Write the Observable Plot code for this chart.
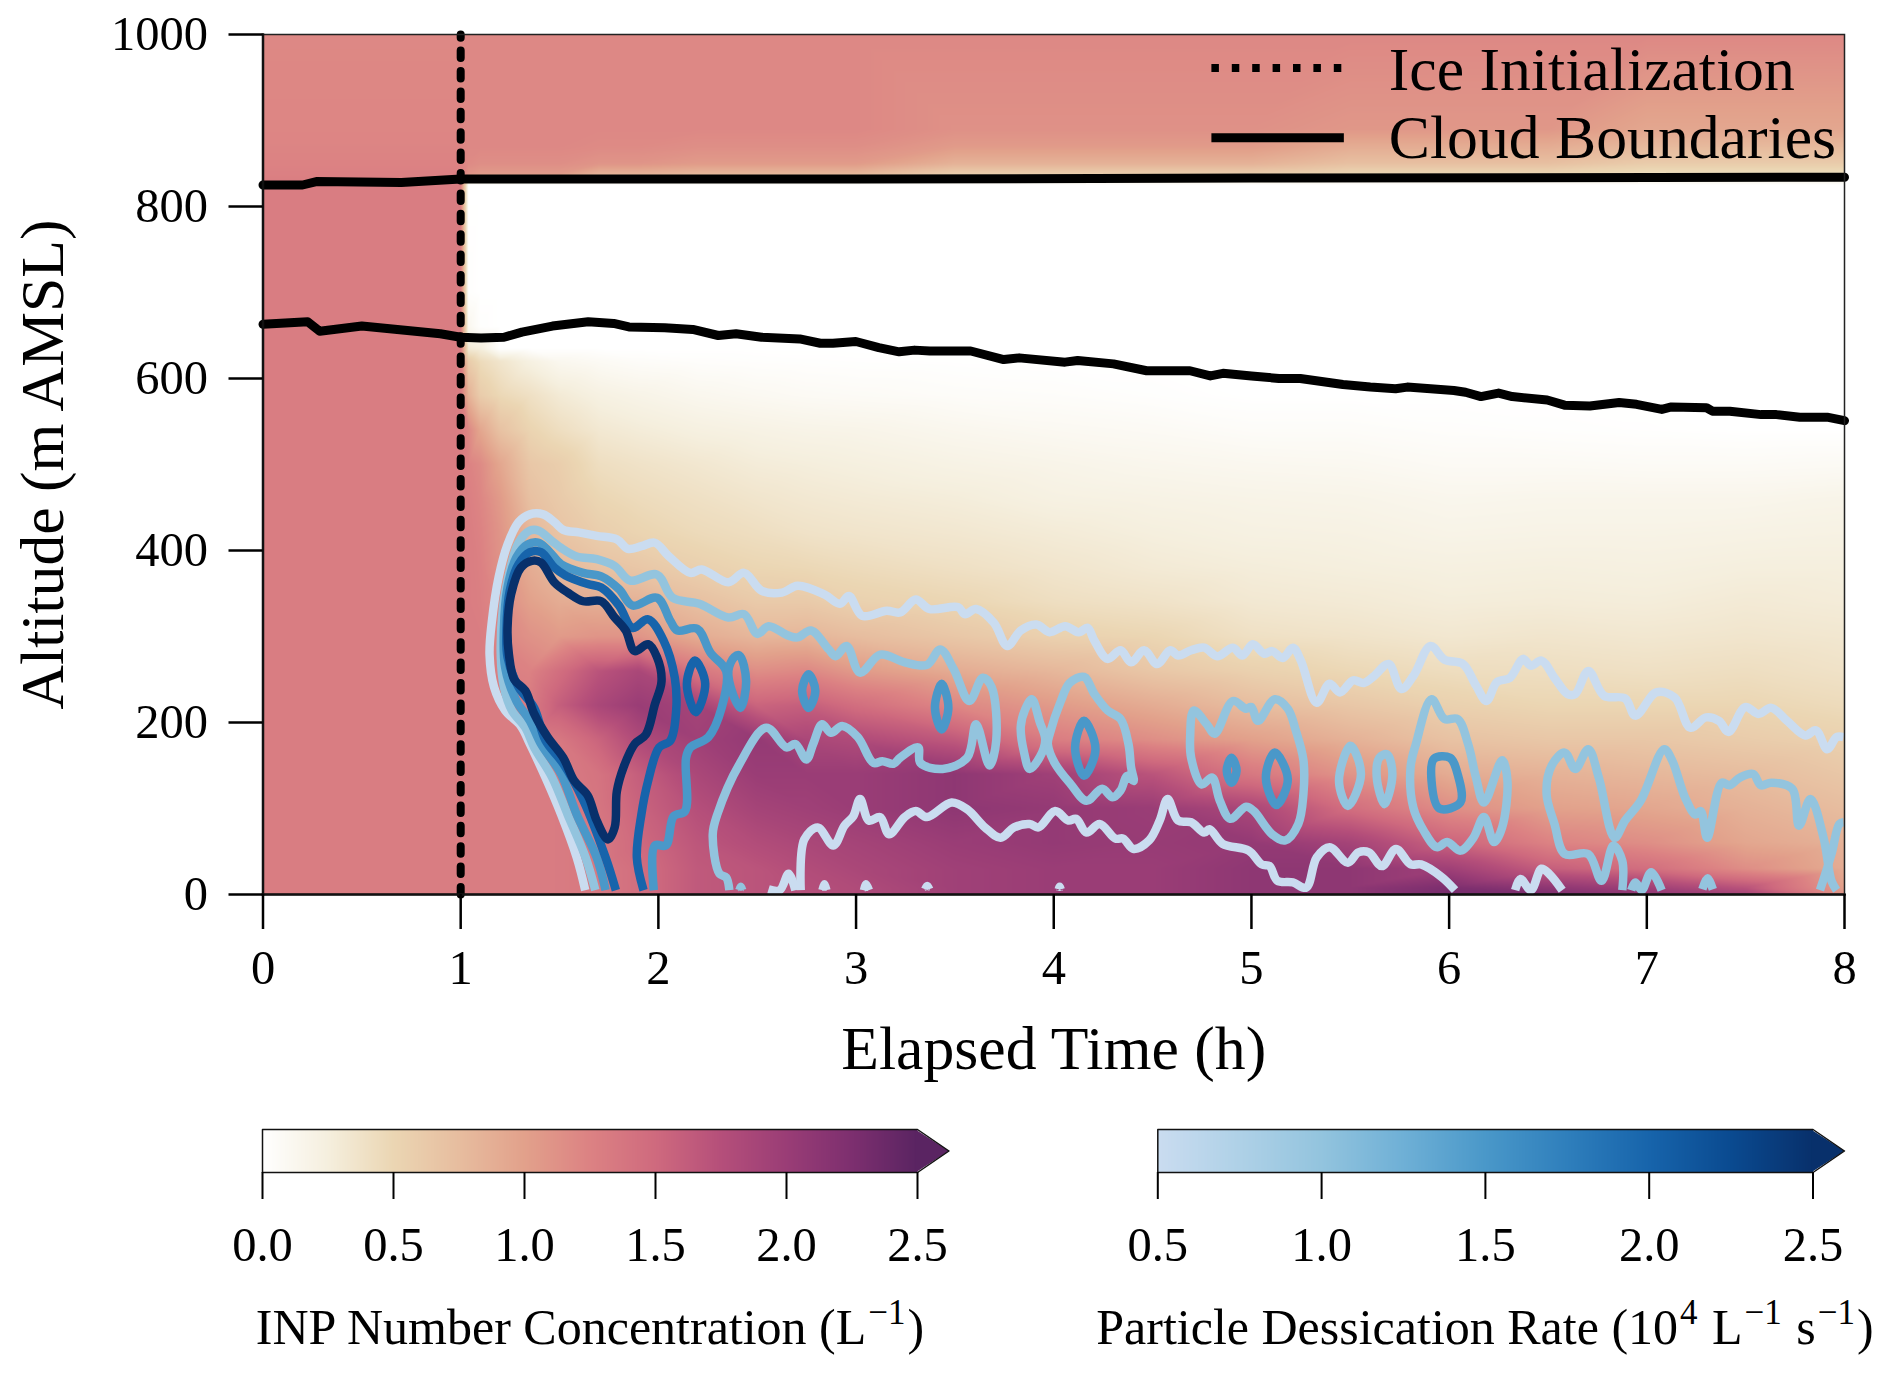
<!DOCTYPE html>
<html>
<head>
<meta charset="utf-8">
<script src="https://cdn.jsdelivr.net/npm/d3@7"></script>
<script src="https://cdn.jsdelivr.net/npm/@observablehq/plot@0.6"></script>
<style>
html,body{margin:0;padding:0;background:#fff;overflow:hidden}
#page{position:relative;width:1892px;height:1374px;font-family:"Liberation Serif",serif;color:#000}
#page svg{display:block;position:absolute;max-width:none}
.cbtitle{position:absolute;top:1297px;width:946px;text-align:center;font-size:50px;line-height:60px;white-space:nowrap}
.cbtitle sup{font-size:35px;line-height:0;vertical-align:baseline;position:relative;top:-20px;margin:0 2px}
</style>
</head>
<body>
<div id="page"></div>
<script>
// ---------- axes ----------
const xTicks = [0,1,2,3,4,5,6,7,8];
const yTicks = [0,200,400,600,800,1000];
const inpTicks = [0,0.5,1,1.5,2,2.5];
const rateTicks = [0.5,1,1.5,2,2.5];

// ---------- colour ramps ----------
const inpStops = [0,0.25,0.5,0.75,1,1.25,1.5,1.75,2,2.25,2.5];
const inpColours = ["#ffffff","#f5efde","#ebd6b3","#e7bd9f","#e2a18b","#dc8283","#cf6a7e","#b54f7a","#9a3d76","#7d2f6f","#5a2462"];
const rateStops = [0.5,0.75,1,1.25,1.5,1.75,2,2.25,2.5];
const rateColours = ["#cadcf0","#afd1e7","#93c4de","#6fb0d6","#4a98c9","#2f7fbc","#1764ab","#0a4a90","#08306b"];

// ---------- INP concentration field, one profile per time ----------
const heatTimes = [0,1,1.04,1.1,1.2,1.35,1.5,1.7,1.9,2.2,2.5,2.75,3,3.5,4,4.5,5,5.5,6,6.5,7,7.5,8];
const heatAltitudes = [0,8,30,60,100,140,180,220,260,300,340,380,420,460,500,540,580,620,635,660,700,825,838,850,870,890,1000];
const cloudZero = [0,0,0,0];
const topEarly = [1.05,1.15,1.2,1.2,1.2];
const topSecond = [.85,1.1,1.18,1.2,1.2];
const topThird = [.8,1.05,1.15,1.2,1.2];
const topMiddle = [.58,.85,1.05,1.13,1.2];
const topLate = [.5,.72,.9,1.08,1.2];
const topEnd = [.42,.6,.78,.95,1.2];
const heatProfiles = [
 [1.3,1.3,1.3,1.3,1.3,1.3,1.3,1.3,1.3,1.3,1.3,1.3,1.3,1.3,1.3,1.3,1.3,1.3,1.3,1.3,1.3,1.3,1.27,1.25,1.23,1.22,1.2],
 [1.3,1.3,1.3,1.3,1.3,1.3,1.3,1.3,1.3,1.3,1.3,1.3,1.3,1.3,1.3,1.3,1.3,1.3,1.3,1.3,1.3,1.3,1.27,1.25,1.23,1.22,1.2],
 [1.3,1.3,1.3,1.3,1.3,1.3,1.3,1.3,1.3,1.3,1.3,1.3,1.3,1.28,1.25,1.2,.85,.6,.3,.12,.02,0,1.1,1.18,1.2,1.2,1.2],
 [1.3,1.3,1.3,1.3,1.3,1.3,1.3,1.3,1.3,1.3,1.28,1.27,1.25,1.22,1.18,.95,.6,.45,.25,.02,0,0,...topEarly],
 [1.3,1.3,1.3,1.3,1.3,1.3,1.3,1.3,1.28,1.22,1.18,1.12,1.1,1.05,.95,.7,.48,.35,...cloudZero,...topEarly],
 [1.3,1.3,1.3,1.3,1.3,1.3,1.3,1.32,1.25,1.12,1,.9,.8,.72,.65,.52,.4,.22,...cloudZero,...topEarly],
 [1.32,1.32,1.32,1.32,1.32,1.32,1.35,1.6,1.45,1.05,.9,.78,.68,.62,.58,.42,.3,.12,...cloudZero,...topEarly],
 [1.35,1.35,1.35,1.35,1.38,1.4,1.55,1.85,1.7,1.1,.88,.7,.58,.5,.42,.32,.22,.08,...cloudZero,...topSecond],
 [1.45,1.45,1.45,1.5,1.55,1.6,1.8,2,1.85,1.1,.85,.65,.52,.45,.38,.28,.18,.05,...cloudZero,...topSecond],
 [1.65,1.65,1.65,1.68,1.75,1.85,1.95,1.9,1.35,.9,.72,.56,.46,.4,.33,.23,.13,.03,...cloudZero,...topThird],
 [1.7,1.7,1.7,1.78,1.9,2,2.05,1.55,1.15,.8,.62,.5,.42,.35,.28,.2,.1,.02,...cloudZero,...topThird],
 [1.75,1.75,1.78,1.85,1.95,2,1.85,1.6,1.2,.82,.62,.48,.38,.32,.26,.18,.08,.015,...cloudZero,...topThird],
 [1.8,1.8,1.85,1.9,2,2,1.8,1.45,1.05,.75,.55,.45,.36,.3,.24,.17,.07,.01,...cloudZero,...topThird],
 [1.95,1.95,1.95,2,2.1,2.1,1.65,1.2,.9,.65,.5,.4,.33,.27,.2,.13,.05,.005,...cloudZero,...topMiddle],
 [2,2,2,2.05,2.05,1.95,1.3,1.05,.8,.55,.42,.35,.29,.22,.17,.1,.04,0,...cloudZero,...topMiddle],
 [2,2,2,2.02,2,1.7,1.15,.9,.65,.5,.38,.3,.25,.2,.14,.08,.02,0,...cloudZero,...topMiddle],
 [2.1,2.1,2.1,2.05,1.85,1.35,1,.75,.55,.4,.32,.27,.22,.18,.12,.05,0,0,...cloudZero,...topMiddle],
 [2.1,2.1,2.1,1.9,1.45,1.1,.85,.65,.48,.37,.3,.25,.21,.17,.11,.05,0,0,...cloudZero,...topLate],
 [2.3,2.25,1.95,1.55,1.15,.9,.7,.55,.43,.33,.27,.23,.18,.14,.08,.03,0,0,...cloudZero,...topLate],
 [2.25,2.1,1.6,1.25,1,.85,.65,.5,.42,.35,.28,.24,.19,.15,.08,.02,0,0,...cloudZero,...topLate],
 [2.1,1.95,1.45,1.15,.95,.8,.65,.5,.4,.33,.27,.23,.19,.15,.07,.01,0,0,...cloudZero,...topEnd],
 [1.9,1.7,1.15,.95,.85,.75,.6,.5,.42,.35,.3,.25,.2,.15,.07,0,0,0,...cloudZero,...topEnd],
 [1.1,1,.9,.85,.75,.65,.55,.45,.38,.33,.28,.25,.21,.17,.08,0,0,0,...cloudZero,...topEnd]
];

// ---------- cloud boundaries ----------
const cloudTop = [[0,825],[.2,825],[.27,829],[.7,828],[1,832],[3,832],[5,833],[8,834]];
const cloudBase = [[0,663],[.226,666],[.287,655],[.5,661],[.897,652],[1,648],[1.103,647],[1.219,648],[1.31,654],[1.464,661],[1.645,666],[1.774,664],[1.851,660],[2.032,659],[2.174,657],[2.303,650],[2.393,652],[2.522,648],[2.715,646],[2.819,641],[2.883,641],[2.999,643],[3.115,636],[3.218,631],[3.296,633],[3.373,632],[3.58,632],[3.747,622],[3.825,624],[4.057,619],[4.121,621],[4.302,617],[4.47,609],[4.689,609],[4.792,603],[4.856,606],[5,603],[5.139,600],[5.247,600],[5.463,593],[5.601,590],[5.729,588],[5.788,590],[6.024,586],[6.083,584],[6.161,579],[6.25,583],[6.319,579],[6.496,575],[6.584,569],[6.712,568],[6.86,572],[6.948,570],[7.076,564],[7.125,567],[7.302,566],[7.332,562],[7.42,562],[7.578,558],[7.656,558],[7.774,555],[7.912,555],[8,551]];
const iceStart = [[1,0],[1,1000]];

// ---------- desiccation-rate contours: level 0.5 ----------
const c05Upper = [[1.63,5],[1.587,43],[1.508,93],[1.429,136],[1.35,175],[1.304,196],[1.225,214],[1.169,241],[1.146,279],[1.158,318],[1.192,369],[1.237,407],[1.293,433],[1.35,442],[1.417,442],[1.474,433],[1.519,424],[1.598,421],[1.688,417],[1.79,413],[1.846,402],[1.914,405],[1.982,409],[2.05,394],[2.162,374],[2.219,378],[2.354,363],[2.433,374],[2.523,353],[2.625,351],[2.704,359],[2.839,349],[2.918,338],[2.964,347],[3.031,324],[3.155,330],[3.223,328],[3.302,343],[3.37,332],[3.517,334],[3.55,326],[3.607,332],[3.697,316],[3.765,289],[3.833,307],[3.912,314],[3.979,305],[4.058,312],[4.126,305],[4.171,310],[4.206,295],[4.272,274],[4.338,284],[4.391,270],[4.457,284],[4.523,268],[4.589,284],[4.629,278],[4.695,284],[4.761,287],[4.827,277],[4.906,287],[4.954,278],[5.007,291],[5.065,280],[5.105,283],[5.158,275],[5.21,287],[5.25,272],[5.33,223],[5.395,245],[5.448,235],[5.515,249],[5.568,246],[5.62,254],[5.694,268],[5.758,239],[5.819,254],[5.906,289],[5.977,273],[6.07,268],[6.136,243],[6.189,225],[6.242,247],[6.308,252],[6.374,274],[6.414,266],[6.467,272],[6.533,252],[6.599,233],[6.638,233],[6.704,260],[6.784,231],[6.89,228],[6.942,208],[7.048,235],[7.141,229],[7.22,194],[7.299,206],[7.365,202],[7.413,189],[7.498,218],[7.564,210],[7.63,217],[7.709,202],[7.802,185],[7.855,191],[7.913,169],[7.96,183],[7.995,183]];
const c05Lower = [[2.72,5],[2.738,64],[2.806,78],[2.885,57],[2.941,80],[2.986,91],[3.02,111],[3.065,86],[3.122,90],[3.167,70],[3.246,90],[3.302,97],[3.359,90],[3.483,107],[3.562,99],[3.652,78],[3.731,66],[3.799,78],[3.878,82],[3.923,78],[4.007,97],[4.074,86],[4.113,88],[4.166,72],[4.232,82],[4.312,65],[4.351,65],[4.404,53],[4.483,63],[4.536,86],[4.576,111],[4.629,86],[4.695,84],[4.761,72],[4.788,76],[4.854,59],[4.986,51],[5.052,35],[5.092,33],[5.131,16],[5.21,14],[5.277,8],[5.33,43],[5.395,55],[5.488,37],[5.541,49],[5.594,49],[5.66,33],[5.731,53],[5.805,35],[5.858,35],[5.964,20],[6.03,5]];
const c05BumpA = [[6.334,5],[6.361,18],[6.414,5],[6.467,30],[6.506,24],[6.572,5]];
const c05BumpB = [[2.557,6],[2.614,5],[2.659,24],[2.693,5]];
const c05Dots = [[[2.83,5],[2.84,12],[2.85,5]],[[3.04,5],[3.05,12],[3.065,5]],[[3.35,6],[3.36,10],[3.37,6]],[[4.025,6],[4.03,9],[4.035,6]]];

// ---------- level 1.0 ----------
const c10Main = [[1.681,5],[1.632,43],[1.541,93],[1.463,136],[1.372,171],[1.327,194],[1.259,214],[1.219,241],[1.203,276],[1.214,334],[1.248,376],[1.293,409],[1.35,423],[1.395,423],[1.462,411],[1.508,403],[1.587,393],[1.688,390],[1.779,382],[1.858,365],[1.993,372],[2.072,345],[2.207,338],[2.354,322],[2.433,326],[2.501,303],[2.557,312],[2.659,301],[2.704,299],[2.772,307],[2.862,285],[2.896,277],[2.952,289],[3.02,258],[3.122,279],[3.246,270],[3.359,267],[3.426,285],[3.494,262],[3.573,225],[3.641,252],[3.686,241],[3.709,179],[3.675,150],[3.607,198],[3.562,159],[3.438,146],[3.325,153],[3.314,171],[3.223,159],[3.189,152],[3.133,155],[3.088,153],[3.009,183],[2.93,196],[2.873,188],[2.828,198],[2.783,175],[2.749,157],[2.693,175],[2.648,171],[2.546,194],[2.411,152],[2.298,93],[2.275,70],[2.309,24],[2.343,20],[2.359,5]];
const c10Lower = [[6.876,5],[6.876,39],[6.831,57],[6.771,16],[6.704,47],[6.585,47],[6.533,82],[6.493,117],[6.519,150],[6.585,165],[6.638,146],[6.704,169],[6.757,136],[6.837,66],[6.89,86],[6.969,109],[7.088,169],[7.128,156],[7.193,113],[7.246,93],[7.273,97],[7.305,66],[7.379,130],[7.418,127],[7.471,136],[7.538,140],[7.577,127],[7.63,130],[7.735,123],[7.77,80],[7.828,111],[7.894,66],[7.934,16],[7.96,5]];
const c10Edge = [[7.876,5],[7.934,47],[7.974,82],[7.995,84]];
const c10BumpA = [[6.921,5],[6.942,14],[6.974,5],[7.022,26],[7.075,5]];
const c10BumpB = [[7.281,6],[7.307,19],[7.334,6]];
const c10Dot = [[2.41,5],[2.417,9],[2.424,5]];
const c10Loops = [
 [[3.889,227],[3.93,200],[3.957,180],[3.93,160],[3.878,146],[3.85,165],[3.833,195],[3.855,215]],
 [[3.979,186],[4.036,225],[4.081,246],[4.153,253],[4.206,233],[4.272,214],[4.338,204],[4.378,175],[4.391,148],[4.404,132],[4.372,138],[4.338,121],[4.298,113],[4.245,123],[4.166,109],[4.087,128],[4.007,152],[3.97,175]],
 [[4.69,183],[4.708,214],[4.774,198],[4.814,187],[4.906,225],[4.973,216],[4.999,218],[5.033,202],[5.118,227],[5.184,216],[5.224,191],[5.263,156],[5.263,117],[5.237,82],[5.171,63],[5.105,70],[5.012,97],[4.973,102],[4.893,88],[4.84,109],[4.801,136],[4.748,128],[4.695,159]],
 [[5.501,173],[5.554,140],[5.488,103],[5.443,132]],
 [[5.686,163],[5.713,140],[5.673,105],[5.634,136],[5.647,159]],
 [[5.805,148],[5.832,175],[5.911,227],[5.977,204],[6.043,204],[6.096,175],[6.136,136],[6.176,107],[6.268,156],[6.295,132],[6.268,78],[6.228,61],[6.176,90],[6.123,66],[6.057,51],[5.99,61],[5.938,55],[5.872,74],[5.819,101]]
];

// ---------- level 1.5 ----------
const c15Main = [[1.733,5],[1.688,43],[1.587,93],[1.508,140],[1.406,175],[1.35,202],[1.282,225],[1.225,264],[1.219,310],[1.237,357],[1.282,392],[1.338,407],[1.395,409],[1.451,398],[1.508,384],[1.62,374],[1.711,370],[1.801,355],[1.869,336],[1.993,345],[2.061,318],[2.095,307],[2.196,309],[2.264,281],[2.343,260],[2.32,217],[2.253,183],[2.162,171],[2.14,159],[2.135,97],[2.077,91],[2.038,57],[1.982,57],[1.977,5]];
const c15Loops = [
 [[2.41,278],[2.444,248],[2.415,217],[2.377,233],[2.354,260],[2.384,276]],
 [[2.76,256],[2.794,237],[2.76,217],[2.727,237]],
 [[3.433,245],[3.467,217],[3.433,192],[3.399,217]],
 [[4.153,202],[4.211,169],[4.153,138],[4.108,171]],
 [[4.899,159],[4.925,144],[4.899,130],[4.875,144]],
 [[5.118,165],[5.184,134],[5.126,104],[5.073,136]],
 [[5.924,158],[6.004,159],[6.043,140],[6.057,107],[5.951,100],[5.911,132]]
];

// ---------- level 2.0 ----------
const c20Main = [[1.785,5],[1.733,43],[1.621,109],[1.519,152],[1.429,179],[1.372,217],[1.293,241],[1.237,276],[1.232,310],[1.248,353],[1.293,384],[1.35,398],[1.406,398],[1.474,380],[1.53,371],[1.643,361],[1.711,357],[1.801,336],[1.869,310],[1.948,320],[2.027,295],[2.083,252],[2.09,214],[2.061,179],[2.004,171],[1.948,132],[1.914,93],[1.891,43],[1.925,5]];
const c20Loop = [[2.185,272],[2.237,245],[2.189,212],[2.144,245]];

// ---------- level 2.5 ----------
const c25Loop = [[1.745,64],[1.688,86],[1.643,115],[1.575,132],[1.519,159],[1.44,183],[1.372,210],[1.327,237],[1.271,250],[1.244,279],[1.237,310],[1.255,349],[1.304,380],[1.361,388],[1.406,386],[1.474,363],[1.542,351],[1.62,341],[1.711,341],[1.779,322],[1.835,307],[1.88,283],[1.948,291],[1.993,276],[2.016,248],[1.982,221],[1.937,186],[1.88,175],[1.824,148],[1.79,120],[1.779,78]];

// ---------- legend ----------
const legendKeyTimes = [4.8,5.47];
const legendLabelTime = 5.695;
const legendRows = [{label:"Ice Initialization",alt:958,keyAlt:961},{label:"Cloud Boundaries",alt:879,keyAlt:880}];

const level = v => rateColours[rateStops.indexOf(v)];
const heatTable = heatTimes.flatMap((t,i)=>heatAltitudes.map((alt,j)=>({t,alt,v:heatProfiles[i][j]})));
const contourLine = (pts,v,closed=false)=>Plot.line(pts,{x:d=>d[0],y:d=>d[1],stroke:level(v),strokeWidth:8.5,strokeLinejoin:"round",strokeLinecap:"butt",curve:closed?"catmull-rom-closed":"catmull-rom"});

const serif = {fontFamily:"Liberation Serif",background:"transparent"};
const page = document.getElementById("page");

const main = Plot.plot({
  width:1892,height:1110,
  marginLeft:262.5,marginRight:48,marginTop:34,marginBottom:216,
  style:serif,
  x:{domain:[0,8],axis:null},
  y:{domain:[0,1000],axis:null},
  color:{type:"linear",domain:inpStops,range:inpColours,clamp:true},
  marks:[
    Plot.raster(heatTable,{x:"t",y:"alt",fill:"v",interpolate:"barycentric",pixelSize:1}),
    contourLine(c05Upper,.5),contourLine(c05Lower,.5),contourLine(c05BumpA,.5),contourLine(c05BumpB,.5),
    ...c05Dots.map(d=>contourLine(d,.5)),
    contourLine(c10Main,1),contourLine(c10Lower,1),contourLine(c10Edge,1),contourLine(c10BumpA,1),contourLine(c10BumpB,1),contourLine(c10Dot,1),
    ...c10Loops.map(d=>contourLine(d,1,true)),
    contourLine(c15Main,1.5),
    ...c15Loops.map(d=>contourLine(d,1.5,true)),
    contourLine(c20Main,2),contourLine(c20Loop,2,true),
    contourLine(c25Loop,2.5,true),
    Plot.line(cloudTop,{x:d=>d[0],y:d=>d[1],stroke:"#000",strokeWidth:9,strokeLinejoin:"round"}),
    Plot.line(cloudBase,{x:d=>d[0],y:d=>d[1],stroke:"#000",strokeWidth:9,strokeLinejoin:"round"}),
    Plot.line(iceStart,{x:d=>d[0],y:d=>d[1],stroke:"#000",strokeWidth:8,strokeDasharray:"7.5 12.9"}),
    Plot.ruleY([legendRows[0].keyAlt],{x1:legendKeyTimes[0],x2:legendKeyTimes[1],stroke:"#000",strokeWidth:8,strokeDasharray:"7.5 12.9"}),
    Plot.ruleY([legendRows[1].keyAlt],{x1:legendKeyTimes[0],x2:legendKeyTimes[1],stroke:"#000",strokeWidth:9}),
    Plot.text(legendRows,{x:()=>legendLabelTime,y:"alt",text:"label",textAnchor:"start",fontSize:61.7,fill:"#000"}),
    Plot.frame({stroke:"#222",strokeWidth:1.5}),
    Plot.frame({anchor:"bottom",stroke:"#111",strokeWidth:2.5}),
    Plot.frame({anchor:"left",stroke:"#111",strokeWidth:2.5}),
    Plot.axisX({ticks:xTicks,tickSize:35,tickPadding:20,fontSize:48.5,strokeWidth:2.5,label:null,tickFormat:d=>String(d)}),
    Plot.axisY({ticks:yTicks,tickSize:34,tickPadding:21,fontSize:48.5,strokeWidth:2.5,label:null,tickFormat:d=>String(d)}),
    Plot.text(["Elapsed Time (h)"],{frameAnchor:"bottom",dy:174,fontSize:61.7,fill:"#000"}),
    Plot.text(["Altitude (m AMSL)"],{frameAnchor:"left",textAnchor:"middle",dx:-220,rotate:-90,fontSize:61.7,fill:"#000"})
  ]
});
page.appendChild(main);

function colourBar({left,top,lo,hi,tip,ticks,stops,colours,marginLeft,marginRight}){
  const outline = [[lo,0],[hi,0],[tip,.5],[hi,1],[lo,1],[lo,0]];
  const seam = (hi-lo)*0.003;
  const arrow = [[hi-seam,0],[tip,.5],[hi-seam,1]];
  const bar = Plot.plot({
    width:946,height:160,marginLeft,marginRight,marginTop:29,marginBottom:88,
    style:serif,
    x:{domain:[lo,hi],axis:null},
    y:{domain:[0,1],axis:null},
    color:{type:"linear",domain:stops,range:colours,clamp:true},
    marks:[
      Plot.raster({fill:(x,y)=>x,x1:lo,x2:hi,y1:0,y2:1,pixelSize:1}),
      Plot.line(arrow,{x:d=>d[0],y:d=>d[1],fill:colours[colours.length-1],stroke:"none"}),
      Plot.line(outline,{x:d=>d[0],y:d=>d[1],stroke:"#111",strokeWidth:1.5}),
      Plot.axisX({ticks,tickSize:27,tickPadding:27,fontSize:48.5,strokeWidth:2,label:null,tickFormat:d3.format(".1f")})
    ]
  });
  bar.style.left = left+"px"; bar.style.top = top+"px"; bar.style.overflow="visible";
  page.appendChild(bar);
}
colourBar({left:0,top:1100,lo:0,hi:2.5,tip:2.62,ticks:inpTicks,stops:inpStops,colours:inpColours,marginLeft:262,marginRight:29});
colourBar({left:946,top:1100,lo:0.5,hi:2.5,tip:2.596,ticks:rateTicks,stops:rateStops,colours:rateColours,marginLeft:211.3,marginRight:79.5});

const t1 = document.createElement("div");
t1.className="cbtitle"; t1.style.left="117px";
t1.innerHTML="INP Number Concentration (L<sup>−1</sup>)";
page.appendChild(t1);
const t2 = document.createElement("div");
t2.className="cbtitle"; t2.style.left="1012px";
t2.innerHTML="Particle Dessication Rate (10<sup>4</sup> L<sup>−1</sup> s<sup>−1</sup>)";
page.appendChild(t2);
</script>
</body>
</html>
